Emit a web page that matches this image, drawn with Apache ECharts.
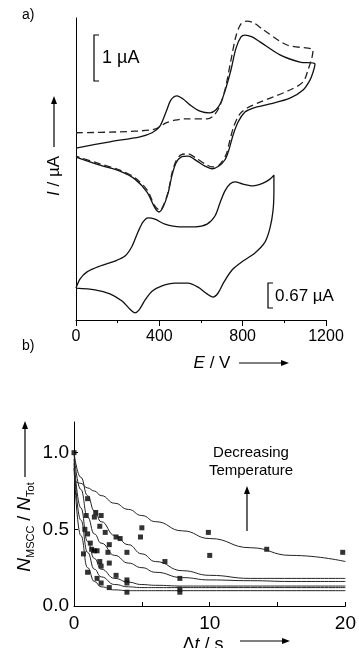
<!DOCTYPE html>
<html>
<head>
<meta charset="utf-8">
<script src="https://cdn.jsdelivr.net/npm/echarts@6/dist/echarts.min.js"></script>
<style>
html,body{margin:0;padding:0;background:#fff;}
#main{width:359px;height:648px;}
</style>
</head>
<body>
<div id="main"></div>
<script>
var FONT = "'Liberation Sans', Arial, sans-serif";

// a) voltammogramme, E in mV, I in uA (traces versetzt)
var topSolidE = [0,163,307,365,403,432,456,485,514,547,595,643,672,696,720,744,768,792,811,845,883,979,1075,1147,
    1138,1123,1090,1027,931,850,811,778,754,734,715,686,653,619,581,538,504,480,461,442,418,398,379,341,283,211,115,0];
var topSolidI = [3.82,3.96,4.07,4.16,4.31,4.62,4.89,4.98,4.91,4.78,4.64,4.60,4.67,4.84,5.16,5.56,6.04,6.29,6.33,6.29,6.18,5.89,5.73,5.69,
    5.51,5.33,5.11,4.93,4.80,4.71,4.62,4.40,4.11,3.78,3.56,3.42,3.36,3.42,3.53,3.64,3.62,3.49,3.22,2.82,2.51,2.40,2.49,2.84,3.13,3.31,3.44,3.62];

var topDashE = [0,211,355,394,432,475,523,629,658,686,715,744,768,792,821,854,893,1013,1138,
    1133,1114,1090,1027,883,821,787,758,739,720,686,653,619,581,538,504,480,461,442,418,403,379,341,283,211,115,0];
var topDashI = [4.16,4.18,4.22,4.27,4.38,4.44,4.47,4.47,4.53,4.71,5.11,5.78,6.31,6.58,6.64,6.60,6.47,6.11,6.00,
    5.84,5.56,5.29,5.11,4.84,4.71,4.58,4.31,4.00,3.67,3.44,3.40,3.47,3.58,3.69,3.67,3.53,3.27,2.84,2.53,2.44,2.53,2.89,3.16,3.33,3.47,3.64];

var lowE = [0,19,53,115,187,235,269,298,322,346,379,427,499,571,629,667,691,715,739,763,802,850,898,931,950,
    950,946,931,907,859,802,749,710,682,658,629,586,538,475,413,365,331,302,283,259,221,163,91,0];
var lowI = [0.71,0.91,1.07,1.20,1.31,1.42,1.64,1.96,2.18,2.27,2.24,2.13,2.07,2.07,2.13,2.31,2.60,2.87,3.02,3.07,3.02,2.98,3.04,3.13,3.22,
    2.89,2.44,2.04,1.73,1.49,1.31,1.11,0.84,0.60,0.51,0.58,0.73,0.82,0.82,0.76,0.64,0.44,0.22,0.16,0.24,0.42,0.58,0.67,0.71];

var eTicks = [0, 400, 800, 1200];

// b) N_MSCC/N_Tot gegen delta t
var fitT = [0,0.5,1,1.5,2,3,4,5,6,8,10,13,16,20];
var fit1 = [0.82,0.80,0.77,0.75,0.72,0.67,0.63,0.59,0.55,0.49,0.44,0.38,0.33,0.29];
var fit2 = [1.00,0.84,0.72,0.62,0.55,0.46,0.40,0.34,0.29,0.23,0.20,0.18,0.18,0.18];
var fit3 = [0.99,0.76,0.58,0.47,0.41,0.33,0.28,0.25,0.22,0.185,0.17,0.165,0.16,0.16];
var fit4 = [0.96,0.64,0.42,0.31,0.24,0.18,0.155,0.14,0.135,0.13,0.13,0.13,0.13,0.13];
var fit5 = [0.93,0.56,0.35,0.24,0.19,0.14,0.125,0.12,0.12,0.12,0.12,0.12,0.12,0.12];
var fit6 = [0.90,0.46,0.25,0.16,0.125,0.105,0.10,0.10,0.10,0.10,0.10,0.10,0.10,0.10];

var ptT = [0,1.0,0.9,1.6,1.5,2.0,0.8,1.0,1.9,2.3,1.2,1.3,1.5,1.7,0.7,1.9,2.0,2.6,2.5,3.1,3.4,3.9,2.6,1.0,1.7,2.0,3.1,3.9,3.9,2.6,3.9,4.9,5.0,6.7,7.8,7.8,7.8,9.9,10.0,14.2,19.8];
var ptN = [1.0,0.70,0.59,0.61,0.58,0.59,0.50,0.47,0.52,0.48,0.41,0.37,0.36,0.36,0.34,0.29,0.26,0.40,0.35,0.45,0.44,0.35,0.28,0.22,0.18,0.15,0.20,0.17,0.15,0.12,0.09,0.45,0.51,0.29,0.18,0.11,0.09,0.48,0.33,0.37,0.35];

var tTicks = [0, 5, 10, 15, 20];
var tLabels = [0, 10, 20];
var nTicks = [0, 0.5, 1];

function zip(a, b) {
    var out = [];
    for (var i = 0; i < a.length; i++) out.push([a[i], b[i]]);
    return out;
}

var myChart = echarts.init(document.getElementById('main'));

var fitLine = function (ys) {
    return {
        type: 'line',
        xAxisIndex: 1,
        yAxisIndex: 1,
        data: zip(fitT, ys),
        smooth: true,
        smoothMonotone: 'x',
        symbol: 'none',
        lineStyle: { color: '#222', width: 1 }
    };
};

function arrow(x1, y1, x2, y2) {
    // einfacher pfeil mit gefuellter spitze
    var dx = x2 - x1, dy = y2 - y1;
    var len = Math.sqrt(dx * dx + dy * dy);
    var ux = dx / len, uy = dy / len;
    var bx = x2 - ux * 8, by = y2 - uy * 8;
    return [
        { type: 'line', shape: { x1: x1, y1: y1, x2: bx, y2: by }, style: { stroke: '#000', lineWidth: 1.2 } },
        { type: 'polygon', shape: { points: [[x2, y2], [bx - uy * 3, by + ux * 3], [bx + uy * 3, by - ux * 3]] }, style: { fill: '#000' } }
    ];
}

var txt = { fill: '#000', fontFamily: FONT };

var graphics = [
    { type: 'text', x: 22, y: 15, style: Object.assign({ text: 'a)', fontSize: 14, verticalAlign: 'middle' }, txt) },
    { type: 'text', x: 22, y: 346, style: Object.assign({ text: 'b)', fontSize: 14, verticalAlign: 'middle' }, txt) },
    // y titel a
    { type: 'text', x: 54, y: 176, rotation: Math.PI / 2,
      style: Object.assign({ text: '{i|I} / µA', fontSize: 17, align: 'center', verticalAlign: 'middle',
          rich: { i: { fontStyle: 'italic', fontSize: 17, fontFamily: FONT } } }, txt) },
    // x titel a
    { type: 'text', x: 212, y: 363,
      style: Object.assign({ text: '{i|E} / V', fontSize: 17, align: 'center', verticalAlign: 'middle',
          rich: { i: { fontStyle: 'italic', fontSize: 17, fontFamily: FONT } } }, txt) },
    // massstab 1 uA
    { type: 'polyline', shape: { points: [[99, 35], [94, 35], [94, 81], [99, 81]] }, style: { stroke: '#000', lineWidth: 1.2, fill: null } },
    { type: 'text', x: 102, y: 58, style: Object.assign({ text: '1 µA', fontSize: 18, verticalAlign: 'middle' }, txt) },
    // massstab 0.67 uA
    { type: 'polyline', shape: { points: [[273, 283], [268, 283], [268, 308], [273, 308]] }, style: { stroke: '#000', lineWidth: 1.2, fill: null } },
    { type: 'text', x: 275, y: 296, style: Object.assign({ text: '0.67 µA', fontSize: 17, verticalAlign: 'middle' }, txt) },
    // y titel b
    { type: 'text', x: 25, y: 527, rotation: Math.PI / 2,
      style: Object.assign({ text: '{n|N}{s|MSCC} / {n|N}{s|Tot}', fontSize: 18, align: 'center', verticalAlign: 'middle',
          rich: {
              n: { fontStyle: 'italic', fontSize: 19, lineHeight: 22, fontFamily: FONT },
              s: { fontSize: 11, lineHeight: 12, verticalAlign: 'bottom', fontFamily: FONT }
          } }, txt) },
    // x titel b
    { type: 'text', x: 203, y: 645,
      style: Object.assign({ text: 'Δ{i|t} / s', fontSize: 18, align: 'center', verticalAlign: 'middle',
          rich: { i: { fontStyle: 'italic', fontSize: 18, fontFamily: FONT } } }, txt) },
    { type: 'text', x: 251, y: 453, style: Object.assign({ text: 'Decreasing', fontSize: 15, align: 'center', verticalAlign: 'middle' }, txt) },
    { type: 'text', x: 251, y: 471, style: Object.assign({ text: 'Temperature', fontSize: 15, align: 'center', verticalAlign: 'middle' }, txt) }
];
graphics = graphics
    .concat(arrow(54, 147, 54, 96))
    .concat(arrow(239, 363, 289, 363))
    .concat(arrow(25, 477, 25, 421))
    .concat(arrow(240, 641, 290, 641))
    .concat(arrow(247, 531, 247, 486));

var axisBlack = { lineStyle: { color: '#000', width: 1 } };

var option = {
    animation: false,
    backgroundColor: '#fff',
    textStyle: { fontFamily: FONT },
    grid: [
        { left: 76, top: 18, width: 250, height: 302 },
        { left: 74, top: 422, width: 274, height: 184 }
    ],
    xAxis: [{
        gridIndex: 0,
        type: 'value',
        min: 0,
        max: 1200,
        interval: 400,
        axisLine: axisBlack,
        axisTick: { show: true, length: 6, lineStyle: { color: '#000' } },
        minorTick: { show: true, splitNumber: 2, length: 3, lineStyle: { color: '#000' } },
        axisLabel: { margin: 9, fontSize: 16, color: '#000', fontFamily: FONT,
            formatter: function (v) { return eTicks.indexOf(v) >= 0 ? String(v) : ''; } },
        splitLine: { show: false },
        minorSplitLine: { show: false }
    }, {
        gridIndex: 1,
        type: 'value',
        min: 0,
        max: 20,
        interval: 5,
        axisLine: axisBlack,
        axisTick: { show: true, inside: true, length: 4, customValues: tTicks, lineStyle: { color: '#000' } },
        axisLabel: { margin: 8, fontSize: 19, color: '#000', fontFamily: FONT, customValues: tLabels },
        splitLine: { show: false }
    }],
    yAxis: [{
        gridIndex: 0,
        type: 'value',
        min: 0,
        max: 6.71,
        axisLine: { show: true, lineStyle: { color: '#000', width: 1 } },
        axisTick: { show: false },
        axisLabel: { show: false },
        splitLine: { show: false }
    }, {
        gridIndex: 1,
        type: 'value',
        min: 0,
        max: 1.2,
        axisLine: { show: true, lineStyle: { color: '#000', width: 1 } },
        axisTick: { show: true, inside: true, length: 4, customValues: nTicks, lineStyle: { color: '#000' } },
        axisLabel: { margin: 5, fontSize: 19, color: '#000', fontFamily: FONT, customValues: nTicks,
            formatter: function (v) { return v.toFixed(1); } },
        splitLine: { show: false }
    }],
    graphic: graphics,
    series: [{
        type: 'line',
        xAxisIndex: 0,
        yAxisIndex: 0,
        data: zip(topSolidE, topSolidI),
        smooth: 0.3,
        symbol: 'none',
        lineStyle: { color: '#111', width: 1.3 }
    }, {
        type: 'line',
        xAxisIndex: 0,
        yAxisIndex: 0,
        data: zip(topDashE, topDashI),
        smooth: 0.3,
        symbol: 'none',
        lineStyle: { color: '#222', width: 1.3, type: [7, 4] }
    }, {
        type: 'line',
        xAxisIndex: 0,
        yAxisIndex: 0,
        data: zip(lowE, lowI),
        smooth: 0.3,
        symbol: 'none',
        lineStyle: { color: '#111', width: 1.3 }
    },
        fitLine(fit1), fitLine(fit2), fitLine(fit3), fitLine(fit4), fitLine(fit5), fitLine(fit6),
    {
        type: 'scatter',
        xAxisIndex: 1,
        yAxisIndex: 1,
        data: zip(ptT, ptN),
        symbol: 'rect',
        symbolSize: 5,
        itemStyle: { color: '#000' }
    }]
};

myChart.setOption(option);
</script>
</body>
</html>
